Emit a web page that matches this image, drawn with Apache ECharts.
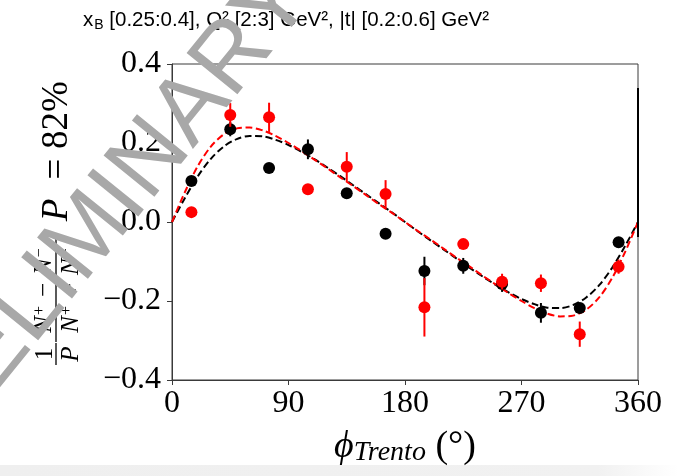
<!DOCTYPE html>
<html><head><meta charset="utf-8">
<script src="https://cdn.jsdelivr.net/npm/echarts@6/dist/echarts.min.js"></script>
<style>html,body{margin:0;padding:0;background:#fff}#c{width:679px;height:476px}</style>
</head><body><div id="c"></div>
<script>
// ---- data ----
const phiBins  = [15, 45, 75, 105, 135, 165, 195, 225, 255, 285, 315, 345];
const blackVal = [0.104, 0.235, 0.137, 0.184, 0.073, -0.030, -0.124, -0.111, -0.157, -0.230, -0.218, -0.051];
const blackErr = [0.012, 0.018, 0.010, 0.025, 0.012, 0.010, 0.036, 0.020, 0.020, 0.025, 0.012, 0.012];
const redVal   = [0.025, 0.271, 0.265, 0.083, 0.140, 0.071, -0.216, -0.056, -0.151, -0.155, -0.284, -0.113];
const redErr   = [0.008, 0.030, 0.037, 0.008, 0.037, 0.035, 0.074, 0.008, 0.020, 0.022, 0.032, 0.018];
const fitPhi   = [0,10,20,30,40,50,60,70,80,90,100,110,120,130,140,150,160,170,180,
                  190,200,210,220,230,240,250,260,270,280,290,300,310,320,330,340,350,360];
const redFit   = [0,0.076,0.142,0.191,0.222,0.237,0.239,0.232,0.218,0.200,0.180,0.158,0.136,0.113,0.091,0.068,0.045,0.023,0,
                  -0.023,-0.045,-0.068,-0.091,-0.113,-0.136,-0.158,-0.180,-0.200,-0.218,-0.232,-0.239,-0.237,-0.222,-0.191,-0.142,-0.076,0];
const blackFit = [0,0.061,0.116,0.160,0.191,0.210,0.218,0.217,0.208,0.195,0.178,0.159,0.138,0.116,0.093,0.070,0.047,0.024,0,
                  -0.024,-0.047,-0.070,-0.093,-0.116,-0.138,-0.159,-0.178,-0.195,-0.208,-0.217,-0.218,-0.210,-0.191,-0.160,-0.116,-0.061,0];
const edgeBarPhi = [360, 360];
const edgeBarVal = [0.339, -0.038];
const xTicks = [0, 90, 180, 270, 360];
const yTicks = [-0.4, -0.2, 0.0, 0.2, 0.4];
const yTickLabels = ['\u22120.4', '\u22120.2', '0.0', '0.2', '0.4'];
const titleText = '{x|x}{sub|B}{x| [0.25:0.4], Q\u00b2 [2:3] GeV\u00b2, |t| [0.2:0.6] GeV\u00b2}';

// ---- build ----
const SERIF = '"Liberation Serif", "DejaVu Serif", serif';
const SANS = '"Liberation Sans", Arial, sans-serif';
const pts = (xs, ys) => xs.map((x, i) => [x, ys[i]]);
const errPts = (xs, ys, es) => xs.map((x, i) => [x, ys[i], es[i]]);
function errRender(color) {
  return function (params, api) {
    const x = api.value(0), v = api.value(1), e = api.value(2);
    const p1 = api.coord([x, v - e]), p2 = api.coord([x, v + e]);
    return { type: 'line', shape: { x1: p1[0], y1: p1[1], x2: p2[0], y2: p2[1] },
             style: { stroke: color, lineWidth: 2 } };
  };
}
const RED = '#ff0000', BLK = '#000000', AX = '#3a3a3a';

const chart = echarts.init(document.getElementById('c'), null, { renderer: 'canvas' });
chart.setOption({
  animation: false,
  backgroundColor: '#ffffff',
  title: {
    text: titleText, left: 83, top: 8, padding: 0, z: 0,
    textStyle: {
      fontFamily: SANS, fontSize: 20.5, fontWeight: 'normal', color: '#000',
      rich: {
        x: { fontFamily: SANS, fontSize: 20.5, fontWeight: 'normal', color: '#000' },
        sub: { fontFamily: SANS, fontSize: 14, fontWeight: 'normal', color: '#000', verticalAlign: 'bottom', padding: [10, 0, 0, 1] }
      }
    }
  },
  grid: { left: 172, right: 41, top: 64, bottom: 96, show: true, borderColor: AX, borderWidth: 1, backgroundColor: 'transparent' },
  xAxis: {
    type: 'value', min: xTicks[0], max: xTicks[xTicks.length - 1], interval: 90,
    axisLine: { onZero: false, lineStyle: { color: AX, width: 1 } },
    axisTick: { show: true, inside: false, length: 5, lineStyle: { color: AX } },
    splitLine: { show: false },
    axisLabel: { fontFamily: SERIF, fontSize: 32, color: '#000', margin: 8 },
    name: '{phi|\u03d5}{sub|Trento}{n| (\u00b0)}',
    nameLocation: 'middle', nameGap: 47,
    nameTextStyle: {
      rich: {
        phi: { fontFamily: SERIF, fontStyle: 'italic', fontSize: 38, color: '#000' },
        sub: { fontFamily: SERIF, fontStyle: 'italic', fontSize: 28, color: '#000', padding: [12, 0, 0, 0] },
        n: { fontFamily: SERIF, fontSize: 38, color: '#000' }
      }
    }
  },
  yAxis: {
    type: 'value', min: yTicks[0], max: yTicks[yTicks.length - 1], interval: 0.2,
    axisLine: { onZero: false, lineStyle: { color: AX, width: 1 } },
    axisTick: { show: true, inside: false, length: 5, lineStyle: { color: AX } },
    splitLine: { show: false },
    axisLabel: {
      fontFamily: SERIF, fontSize: 32, color: '#000', margin: 11,
      formatter: v => { const i = yTicks.findIndex(t => Math.abs(t - v) < 1e-9); return i >= 0 ? yTickLabels[i] : ''; }
    }
  },
  series: [
    { type: 'line', data: pts(fitPhi, blackFit), showSymbol: false, smooth: 0.3, z: 3,
      lineStyle: { color: BLK, width: 2, type: [7, 3.5] } },
    { type: 'line', data: pts(fitPhi, redFit), showSymbol: false, smooth: 0.3, z: 4,
      lineStyle: { color: RED, width: 2, type: [7, 3.5] } },
    { type: 'custom', renderItem: errRender(BLK), data: errPts(phiBins, blackVal, blackErr), encode: { x: 0, y: 1 }, z: 5 },
    { type: 'scatter', data: pts(phiBins, blackVal), symbol: 'circle', symbolSize: 12, itemStyle: { color: BLK, opacity: 1 }, z: 6 },
    { type: 'custom', renderItem: errRender(RED), data: errPts(phiBins, redVal, redErr), encode: { x: 0, y: 1 }, z: 7 },
    { type: 'scatter', data: pts(phiBins, redVal), symbol: 'circle', symbolSize: 12, itemStyle: { color: RED, opacity: 1 }, z: 8 },
    { type: 'line', data: pts(edgeBarPhi, edgeBarVal), showSymbol: false, clip: false, z: 9,
      lineStyle: { color: BLK, width: 2 } }
  ],
  graphic: [
    { type: 'rect', shape: { x: 0, y: 465, width: 679, height: 11 }, z: 0, silent: true,
      style: { fill: new echarts.graphic.LinearGradient(0, 0, 1, 0, [
        { offset: 0, color: '#efefef' }, { offset: 0.88, color: '#f1f1f1' }, { offset: 1, color: '#ffffff' }]) } },
    { type: 'group', x: 56, y: 398, rotation: Math.PI / 2, z: 0, silent: true,
      children: [
        { type: 'text', x: 44, y: -11, style: { text: '1', font: '25px ' + SERIF, fill: '#000', align: 'center', verticalAlign: 'middle' } },
        { type: 'line', shape: { x1: 33, y1: 0, x2: 55, y2: 0 }, style: { stroke: '#000', lineWidth: 1.3 } },
        { type: 'text', x: 44, y: 15, style: { text: 'P', font: 'italic 25px ' + SERIF, fill: '#000', align: 'center', verticalAlign: 'middle' } },
        { type: 'text', x: 108, y: -12, style: {
            text: '{n|N}{s|+}{o|\u2212}{n|N}{s|\u2212}', align: 'center', verticalAlign: 'middle',
            rich: { n: { font: 'italic 25px ' + SERIF, fill: '#000' },
                    s: { font: '16px ' + SERIF, fill: '#000', verticalAlign: 'top', padding: [0, 1, 8, 1] },
                    o: { font: '25px ' + SERIF, fill: '#000', padding: [0, 8, 0, 8] } } } },
        { type: 'line', shape: { x1: 56, y1: 0, x2: 161, y2: 0 }, style: { stroke: '#000', lineWidth: 1.3 } },
        { type: 'text', x: 108, y: 15, style: {
            text: '{n|N}{s|+}{o|+}{n|N}{s|\u2212}', align: 'center', verticalAlign: 'middle',
            rich: { n: { font: 'italic 25px ' + SERIF, fill: '#000' },
                    s: { font: '16px ' + SERIF, fill: '#000', verticalAlign: 'top', padding: [0, 1, 8, 1] },
                    o: { font: '25px ' + SERIF, fill: '#000', padding: [0, 8, 0, 8] } } } },
        { type: 'text', x: 188, y: 1, style: { text: 'P', font: 'italic 37px ' + SERIF, fill: '#000', align: 'center', verticalAlign: 'middle' } },
        { type: 'text', x: 229, y: 1, style: { text: '=', font: '37px ' + SERIF, fill: '#000', align: 'center', verticalAlign: 'middle' } },
        { type: 'text', x: 283, y: 1, style: { text: '82%', font: '37px ' + SERIF, fill: '#000', align: 'center', verticalAlign: 'middle' } }
      ] },
    { type: 'text', x: 92, y: 232, rotation: 51 * Math.PI / 180, z: 100, silent: true,
      style: { text: 'PRELIMINARY', font: '95px ' + SANS, fill: '#a8a8a8', align: 'center', verticalAlign: 'middle' } }
  ]
});
</script></body></html>
